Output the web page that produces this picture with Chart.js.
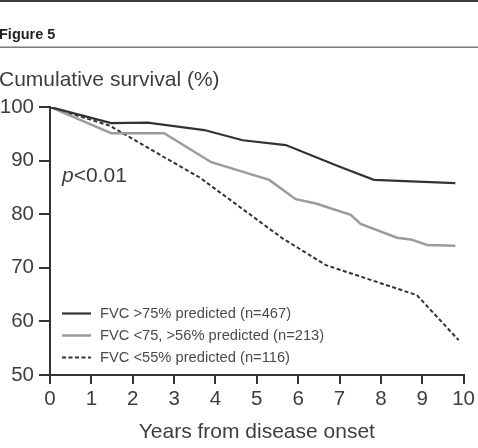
<!DOCTYPE html>
<html>
<head>
<meta charset="utf-8">
<script src="https://cdn.jsdelivr.net/npm/chart.js@4"></script>
<style>
  html, body { margin: 0; padding: 0; background: #fff; }
  #wrap { width: 478px; height: 448px; position: relative; }
</style>
</head>
<body>
<div id="wrap"><canvas id="chart"></canvas></div>
<script>
// series (years, cumulative survival %)
const seriesLabels = ["FVC >75% predicted (n=467)", "FVC <75, >56% predicted (n=213)", "FVC <55% predicted (n=116)"]
const highYears = [0, 1.48, 2.36, 3.73, 4.66, 5.70, 6.99, 7.83, 9.8]
const highSurv = [100, 97.0, 97.1, 95.7, 93.8, 92.9, 88.9, 86.4, 85.8]
const midYears = [0, 1.48, 2.76, 3.9, 5.3, 5.94, 6.43, 7.27, 7.51, 8.39, 8.72, 9.12, 9.8]
const midSurv = [100, 95.1, 95.1, 89.7, 86.4, 82.8, 82.0, 79.9, 78.2, 75.6, 75.3, 74.25, 74.1]
const lowYears = [0, 1.45, 2.81, 3.61, 4.58, 5.62, 6.02, 6.67, 8.87, 9.88]
const lowSurv = [100, 96.5, 90.4, 86.9, 81.4, 75.5, 73.6, 70.5, 64.9, 56.5]
const xTicks = [0, 1, 2, 3, 4, 5, 6, 7, 8, 9, 10]
const yTicks = [50, 60, 70, 80, 90, 100]

const FONT = "'Liberation Sans', Arial, Helvetica, sans-serif"
const INK = '#3d3d3d'

function pts(xs, ys) {
    return xs.map((x, i) => ({ x: x, y: ys[i] }))
}

const figurePlugin = {
    id: 'figure',
    beforeDraw(chart) {
        const c = chart.ctx
        c.save()
        c.fillStyle = '#fff'
        c.fillRect(0, 0, chart.width, chart.height)
        c.restore()
    },
    afterDraw(chart) {
        const c = chart.ctx
        c.save()
        // header rules
        c.fillStyle = '#3a3a3a'
        c.fillRect(0, 0, chart.width, 2)
        c.fillStyle = '#7a7a7a'
        c.fillRect(0, 46.5, chart.width, 1.5)
        c.fillStyle = '#222'
        c.font = 'bold 14.5px ' + FONT
        c.textBaseline = 'alphabetic'
        c.textAlign = 'left'
        c.fillText('Figure 5', -1, 39)

        c.fillStyle = INK
        c.font = '21px ' + FONT
        c.fillText('Cumulative survival (%)', -1, 86)

        // p value
        c.font = 'italic 21px ' + FONT
        c.fillText('p', 62, 182)
        const pw = c.measureText('p').width
        c.font = '21px ' + FONT
        c.fillText('<0.01', 62 + pw, 182)

        // legend
        const rows = [313.5, 335.5, 357.5]
        chart.data.datasets.forEach((ds, i) => {
            const y = rows[i]
            c.beginPath()
            c.strokeStyle = ds.borderColor
            c.lineWidth = ds.borderWidth
            c.setLineDash(ds.borderDash || [])
            c.moveTo(62, y)
            c.lineTo(91, y)
            c.stroke()
            c.setLineDash([])
            c.fillStyle = '#4a4a4a'
            c.font = '14.7px ' + FONT
            c.textBaseline = 'middle'
            c.fillText(ds.label, 100, y + 0.5)
        })
        c.restore()
    }
}

new Chart('chart', {
    type: 'line',
    data: {
        datasets: [
            {
                label: seriesLabels[0],
                data: pts(highYears, highSurv),
                borderColor: '#333',
                borderWidth: 2.2
            },
            {
                label: seriesLabels[1],
                data: pts(midYears, midSurv),
                borderColor: '#9b9b9b',
                borderWidth: 2.5
            },
            {
                label: seriesLabels[2],
                data: pts(lowYears, lowSurv),
                borderColor: '#333',
                borderWidth: 2,
                borderDash: [4, 2.5]
            }
        ]
    },
    options: {
        responsive: true,
        maintainAspectRatio: false,
        animation: false,
        layout: { padding: { top: 107, right: 13, bottom: 0, left: 0 } },
        elements: {
            point: { radius: 0 },
            line: { tension: 0, fill: false, borderCapStyle: 'butt' }
        },
        plugins: {
            legend: { display: false },
            tooltip: { enabled: false }
        },
        scales: {
            x: {
                type: 'linear',
                min: 0,
                max: 10,
                afterBuildTicks: s => { s.ticks = xTicks.map(v => ({ value: v })) },
                afterFit: s => { s.height = 73 },
                grid: { drawOnChartArea: false, color: '#333', lineWidth: 2, tickLength: 9 },
                border: { color: '#333', width: 2 },
                ticks: { color: INK, font: { family: FONT, size: 20.5 }, padding: 3, maxRotation: 0 },
                title: {
                    display: true,
                    text: 'Years from disease onset',
                    color: INK,
                    font: { family: FONT, size: 21 },
                    padding: { top: 0, bottom: 3.5 }
                }
            },
            y: {
                min: 50,
                max: 100,
                afterBuildTicks: s => { s.ticks = yTicks.map(v => ({ value: v })) },
                afterFit: s => { s.width = 50 },
                grid: { drawOnChartArea: false, color: '#333', lineWidth: 2, tickLength: 11 },
                border: { color: '#333', width: 2 },
                ticks: { color: INK, font: { family: FONT, size: 20.5 }, padding: 5 }
            }
        }
    },
    plugins: [figurePlugin]
})
</script>
</body>
</html>
